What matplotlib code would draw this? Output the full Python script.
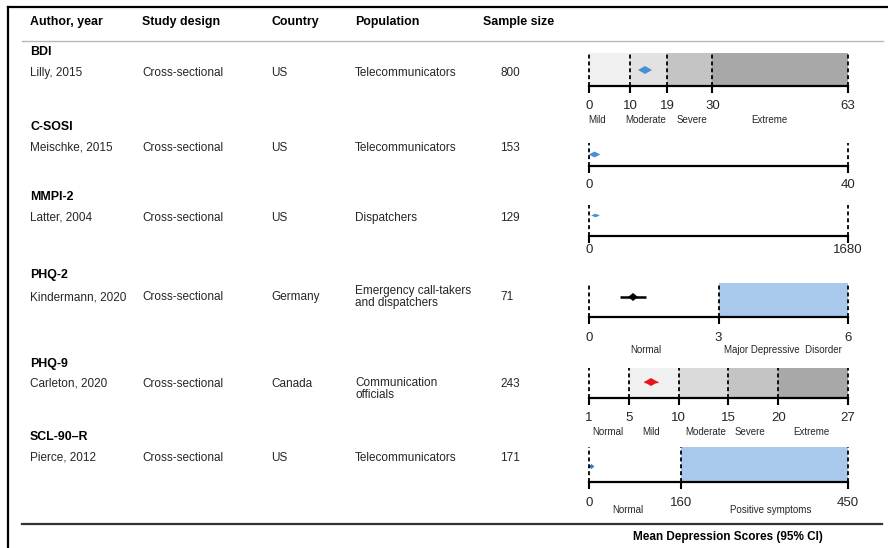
import matplotlib.pyplot as plt
from matplotlib.markers import MarkerStyle
from matplotlib.transforms import Affine2D, blended_transform_factory

plt.rcParams["font.family"] = ["Liberation Sans", "DejaVu Sans"]

W, H = 888, 548

# study table
scales = ["BDI", "C-SOSI", "MMPI-2", "PHQ-2", "PHQ-9", "SCL-90–R"]
authors = ["Lilly, 2015", "Meischke, 2015", "Latter, 2004",
           "Kindermann, 2020", "Carleton, 2020", "Pierce, 2012"]
designs = ["Cross-sectional"] * 6
countries = ["US", "US", "US", "Germany", "Canada", "US"]
populations = ["Telecommunicators", "Telecommunicators", "Dispatchers",
               "Emergency call-takers\nand dispatchers",
               "Communication\nofficials", "Telecommunicators"]
sample_sizes = [800, 153, 129, 71, 243, 171]

# mean depression score with 95% CI
means = [13.6, 0.8, 40, 1.02, 7.2, 3.3]
ci_low = [12.6, 0.4, 28, 0.72, 6.5, 2.4]
ci_high = [14.6, 1.2, 52, 1.32, 7.9, 4.2]

# score range and severity cut-offs of each instrument
cutoffs = [[0, 10, 19, 30, 63], [0, 40], [0, 1680], [0, 3, 6],
           [1, 5, 10, 15, 20, 27], [0, 160, 450]]
categories = [["Mild", "Moderate", "Severe", "Extreme"], [], [],
              ["Normal", "Major Depressive  Disorder"],
              ["Normal", "Mild", "Moderate", "Severe", "Extreme"],
              ["Normal", "Positive symptoms"]]

# styling / placement (pixels from top-left)
point_colors = ["#4a8fd6", "#4a8fd6", "#4a8fd6", "black", "#e8141c", "#3a78c2"]
marker_size = [3.6, 3.0, 1.8, 3.6, 3.6, 2.5]     # diamond height
marker_stretch = [2.1, 2.0, 2.5, 1.4, 2.1, 1.2]  # width / height
ci_width = [1.0, 1.0, 1.0, 1.8, 1.0, 1.0]
band_colors = [["#f0f0f0", "#e2e2e2", "#c4c4c4", "#a8a8a8"], [None], [None],
               [None, "#a9c9ec"],
               [None, "#f0f0f0", "#dadada", "#c4c4c4", "#a8a8a8"],
               [None, "#a9c9ec"]]
category_x = [[1.9, 13.9, 25.1, 43.8], [], [], [1.32, 4.5],
              [2.9, 7.2, 12.7, 17.2, 23.3], [67, 315]]
# band top, point y, axis y, tick label y, category label y
panel_y = [(53, 70, 86, 106, 120), (143, 154, 166, 185, None),
           (205, 215, 236, 250, None), (283, 297, 317, 338, 350),
           (368, 382, 398, 418, 432), (447, 466, 482, 503, 510)]
scale_y = [52, 127, 197, 275, 364, 437]
row_y = [73, 148, 218, 297, 384, 458]
pop_y = [73, 148, 218, 297, 389, 458]
col_x = [30, 142, 271, 355, 500]
PX0, PX1 = 589, 848
TXT = "#262626"

fig = plt.figure(figsize=(W / 100, H / 100), dpi=100)
main = fig.add_axes([0, 0, 1, 1])
main.set_xlim(0, W)
main.set_ylim(H, 0)
main.axis("off")

# frame and rules
main.plot([8, W], [7, 7], color="black", lw=1.6)
main.plot([8, 8], [7, H], color="black", lw=1.6)
main.plot([22, 883], [41, 41], color="#b8b8b8", lw=1.0)
main.plot([22, 882], [524, 524], color="#333333", lw=1.6)

headers = ["Author, year", "Study design", "Country", "Population", "Sample size"]
for x, h in zip([30, 142, 271, 355, 483], headers):
    main.text(x, 22, h, fontsize=8.9, fontweight="bold", va="center", color="black")

for i in range(len(scales)):
    main.text(30, scale_y[i], scales[i], fontsize=8.9, fontweight="bold",
              va="center", color="black")
    main.text(col_x[0], row_y[i], authors[i], fontsize=8.5, va="center", color=TXT)
    main.text(col_x[1], row_y[i], designs[i], fontsize=8.5, va="center", color=TXT)
    main.text(col_x[2], row_y[i], countries[i], fontsize=8.5, va="center", color=TXT)
    main.text(col_x[3], pop_y[i], populations[i], fontsize=8.5, va="center",
              color=TXT, linespacing=1.1)
    main.text(col_x[4], row_y[i], str(sample_sizes[i]), fontsize=8.5,
              va="center", color=TXT)

    top, py, axy, ly, cy = panel_y[i]
    cuts = cutoffs[i]
    ax = fig.add_axes([PX0 / W, 1 - axy / H, (PX1 - PX0) / W, (axy - top) / H])
    ax.set_xlim(cuts[0], cuts[-1])
    ax.set_ylim(axy, top)
    ax.patch.set_alpha(0)
    for s in ("top", "left", "right"):
        ax.spines[s].set_visible(False)
    ax.spines["bottom"].set_linewidth(1.6)
    ax.set_yticks([])
    ax.set_xticks(cuts)
    ax.set_xticklabels([])
    ax.tick_params(axis="x", direction="out", length=5, width=1.5)

    for c0, c1, col in zip(cuts[:-1], cuts[1:], band_colors[i]):
        if col:
            ax.axvspan(c0, c1, color=col, lw=0, zorder=0)

    ax.errorbar(means[i], py,
                xerr=[[means[i] - ci_low[i]], [ci_high[i] - means[i]]],
                fmt="none", ecolor=point_colors[i], elinewidth=ci_width[i],
                capsize=0, clip_on=False, zorder=2)
    diamond = MarkerStyle("D", transform=Affine2D().scale(marker_stretch[i], 1))
    ax.plot(means[i], py, marker=diamond, ms=marker_size[i],
            color=point_colors[i], mew=0, ls="none", clip_on=False, zorder=2)

    for c in cuts:
        ax.axvline(c, color="black", ls=(0, (2.2, 1.6)), lw=1.3, clip_on=False, zorder=3)

    tr = blended_transform_factory(ax.transData, main.transData)
    for c in cuts:
        main.text(c, ly, str(c), transform=tr, fontsize=9.5, ha="center",
                  va="center", color=TXT)
    if cy is not None:
        for lab, lx in zip(categories[i], category_x[i]):
            main.text(lx, cy, lab, transform=tr, fontsize=7, ha="center",
                      va="center", color=TXT)

main.text(728, 537, "Mean Depression Scores (95% CI)", fontsize=8.5,
          fontweight="bold", ha="center", va="center", color="black")

fig.savefig("out.png", dpi=100, facecolor="white")
